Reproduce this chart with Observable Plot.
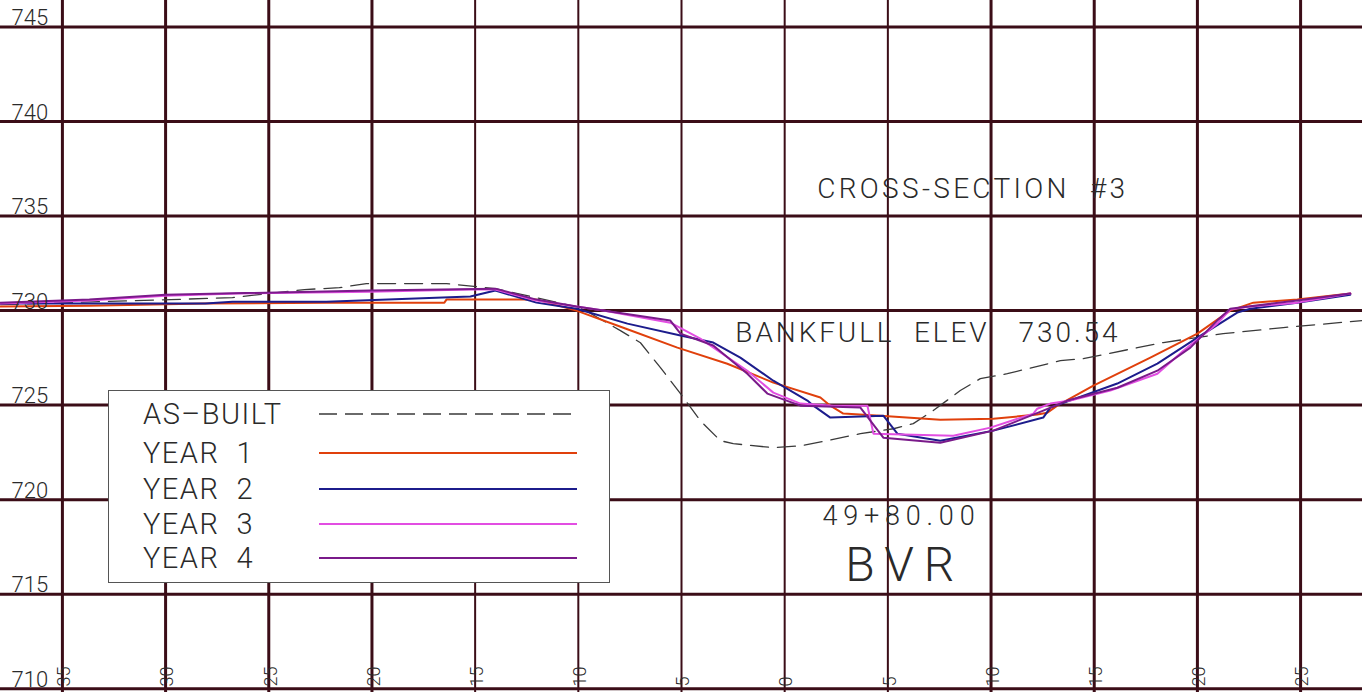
<!DOCTYPE html>
<html>
<head>
<meta charset="utf-8">
<script src="https://cdn.jsdelivr.net/npm/d3@7"></script>
<script src="https://cdn.jsdelivr.net/npm/@observablehq/plot@0.6"></script>
<style>
  html, body { margin: 0; padding: 0; background: #fff; }
  #chart { position: relative; width: 1362px; height: 692px; overflow: hidden; }
  #legend { position: absolute; left: 108px; top: 390px; width: 502px; height: 193px;
            background: #fff; border: 1.5px solid #555; box-sizing: border-box;
            font-family: Roboto, "Liberation Sans", sans-serif; font-weight: 300; color: #2a2a2a; }
  #legend .row { position: absolute; left: 34px; font-size: 29px; white-space: pre; line-height: 1; letter-spacing: 1.5px; }
  #legend svg { position: absolute; left: 0; top: 0; }
</style>
</head>
<body>
<div id="chart"></div>
<script>
// ---- tick values ----
const xTicks = [-35, -30, -25, -20, -15, -10, -5, 0, 5, 10, 15, 20, 25];
const yTicks = [710, 715, 720, 725, 730, 735, 740, 745];

// ---- series (station, elevation) ----
const asBuilt = [
  [-38, 730.32], [-29.76, 730.58], [-26.76, 730.69], [-23.27, 731.11], [-21.58, 731.21],
  [-20.27, 731.43], [-16.39, 731.43], [-14.02, 731.16], [-9.90, 730.16], [-7.96, 728.94],
  [-6.99, 728.30], [-6.02, 726.98], [-5.05, 725.61], [-4.09, 724.18], [-3.12, 723.12],
  [-2.49, 722.96], [-0.55, 722.75], [0.76, 722.85], [2.07, 723.12], [3.67, 723.49],
  [5.27, 723.75], [6.23, 724.02], [7.20, 724.71], [8.51, 725.77], [9.48, 726.40],
  [10.79, 726.66], [13.36, 727.35], [14.47, 727.46], [18.35, 728.31], [21.25, 728.78],
  [24.16, 729.10], [28, 729.47]
];
const year1 = [
  [-38, 730.21], [-33.69, 730.26], [-28.07, 730.37], [-22.21, 730.42], [-16.49, 730.42],
  [-16.39, 730.58], [-12.03, 730.58], [-10.09, 730.0], [-7.72, 729.05], [-5.20, 728.04],
  [-2.78, 727.19], [-0.55, 726.19], [1.73, 725.40], [2.21, 724.97], [2.84, 724.55],
  [4.64, 724.44], [7.54, 724.23], [10.11, 724.28], [12.24, 724.50], [12.73, 724.60],
  [13.21, 724.97], [14.96, 726.03], [17.72, 727.51], [20.0, 728.78], [21.59, 730.0],
  [22.71, 730.42], [24.84, 730.58], [27.41, 730.90]
];
const year2 = [
  [-38, 730.37], [-28.07, 730.37], [-26.76, 730.47], [-22.21, 730.47], [-15.23, 730.74],
  [-14.02, 731.06], [-12.03, 730.42], [-10.09, 730.10], [-7.62, 729.31], [-5.05, 728.68],
  [-3.46, 728.31], [-2.15, 727.51], [-0.55, 726.29], [1.10, 725.24], [1.39, 724.97],
  [2.21, 724.34], [4.78, 724.44], [5.46, 723.49], [7.54, 723.12], [10.11, 723.65],
  [12.53, 724.34], [12.87, 724.87], [16.12, 726.14], [18.06, 727.19], [20.0, 728.57],
  [21.93, 729.89], [22.56, 730.10], [24.84, 730.42], [27.41, 730.84]
];
const year3 = [
  [-38, 730.37], [-33.69, 730.53], [-30.01, 730.79], [-26.52, 730.90], [-20.07, 731.0],
  [-15.28, 731.11], [-14.02, 731.11], [-12.03, 730.53], [-8.79, 730.0], [-5.54, 729.36],
  [-4.09, 728.52], [-1.81, 726.82], [-0.55, 725.66], [0.76, 725.08], [2.36, 724.97],
  [4.01, 724.97], [4.30, 723.49], [8.17, 723.38], [9.97, 723.81], [12.05, 724.55],
  [12.24, 724.81], [12.87, 725.08], [13.84, 725.24], [15.78, 725.77], [18.06, 726.66],
  [19.32, 727.88], [20.96, 729.31], [21.59, 730.05], [22.56, 730.21], [24.84, 730.42],
  [27.41, 730.90]
];
const year4 = [
  [-38, 730.42], [-33.69, 730.58], [-30.01, 730.84], [-20.07, 731.06], [-14.02, 731.16],
  [-12.03, 730.58], [-10.09, 730.21], [-5.54, 729.47], [-5.05, 728.78], [-3.46, 728.15],
  [-1.81, 726.66], [-0.84, 725.61], [0.76, 724.97], [3.67, 724.87], [4.78, 723.28],
  [7.54, 723.01], [10.11, 723.65], [12.53, 724.71], [13.70, 725.24], [16.12, 725.92],
  [18.06, 726.82], [19.66, 728.04], [20.96, 729.47], [21.59, 730.10], [24.84, 730.53],
  [27.41, 730.90]
];

const seriesNames = ["AS-BUILT", "YEAR  1", "YEAR  2", "YEAR  3", "YEAR  4"];
const seriesData = [asBuilt, year1, year2, year3, year4];
const seriesColors = ["#3a3a3a", "#e0400c", "#1c1c8c", "#e24ee2", "#7a1a8a"];

// ---- annotations ----
const annotations = [
  {x: 1.58, y: 736.45, text: "CROSS-SECTION  #3", size: 28, spacing: 3.3},
  {x: -2.39, y: 728.83, text: "BANKFULL  ELEV   730.54", size: 28, spacing: 2.9},
  {x: 1.83, y: 719.1, text: "49+80.00", size: 27, spacing: 5.8},
  {x: 2.94, y: 716.5, text: "BVR", size: 48, spacing: 10}
];

const rows = seriesData.flatMap((pts, i) => pts.map(([x, y]) => ({series: seriesNames[i], x, y})));

const gridColor = "#3b0d17";
const font = "Roboto, 'Liberation Sans', sans-serif";

const lineMarks = seriesNames.map((name, i) =>
  Plot.line(rows.filter(d => d.series === name), {
    x: "x", y: "y", stroke: seriesColors[i],
    strokeWidth: i === 0 ? 1.3 : 2,
    strokeDasharray: i === 0 ? "18,9" : null,
    strokeLinejoin: "round"
  })
);

const plot = Plot.plot({
  width: 1362,
  height: 692,
  margin: 0,
  x: {domain: [-38, 28], axis: null},
  y: {domain: [709.8, 746.4], axis: null},
  style: {background: "#fff", fontFamily: font},
  marks: [
    Plot.ruleX(xTicks.filter(t => t < -15 || t > 5), {x: d => d, stroke: gridColor, strokeWidth: 3}),
    Plot.ruleX(xTicks.filter(t => t >= -15 && t <= 5), {x: d => d, stroke: gridColor, strokeWidth: 2}),
    Plot.ruleY(yTicks, {y: d => d, stroke: gridColor, strokeWidth: 3}),
    ...lineMarks,
    Plot.text(yTicks, {
      y: d => d, text: d => String(d), frameAnchor: "left", dx: 11, dy: -2,
      textAnchor: "start", lineAnchor: "bottom", fontSize: 22, fill: "#2a2a2a", fontWeight: 300
    }),
    Plot.text(xTicks, {
      x: d => d, text: d => String(Math.abs(d)), frameAnchor: "bottom", rotate: -90,
      textAnchor: "start", lineAnchor: "middle", dx: 2, dy: -6, fontSize: 18, fill: "#2a2a2a", fontWeight: 300
    }),
    ...annotations.map(a => Plot.text([a], {
      x: "x", y: "y", text: "text", textAnchor: "start", lineAnchor: "middle",
      fontSize: a.size, fill: "#2a2a2a", fontWeight: 300
    }))
  ]
});
plot.querySelectorAll("text").forEach(t => {
  t.style.whiteSpace = "pre";
  const a = annotations.find(a => a.text === t.textContent);
  if (a) t.setAttribute("letter-spacing", a.spacing);
});

const chart = document.getElementById("chart");
chart.appendChild(plot);

// ---- legend (inside plot area, like the drawing) ----
const legend = document.createElement("div");
legend.id = "legend";
const rowTops = [24, 63, 99, 134, 168];
const lineYs = [23, 62, 98, 133, 167];
let svg = `<svg width="502" height="193">`;
seriesNames.forEach((name, i) => {
  svg += `<line x1="210" x2="468" y1="${lineYs[i]}" y2="${lineYs[i]}" stroke="${seriesColors[i]}" stroke-width="${i === 0 ? 1.4 : 2}" ${i === 0 ? 'stroke-dasharray="18,8"' : ''}/>`;
});
svg += `</svg>`;
legend.innerHTML = svg + seriesNames.map((name, i) =>
  `<div class="row" style="top:${rowTops[i] - 15}px">${name.replace("-", "\u2013")}</div>`).join("");
chart.appendChild(legend);
</script>
</body>
</html>
